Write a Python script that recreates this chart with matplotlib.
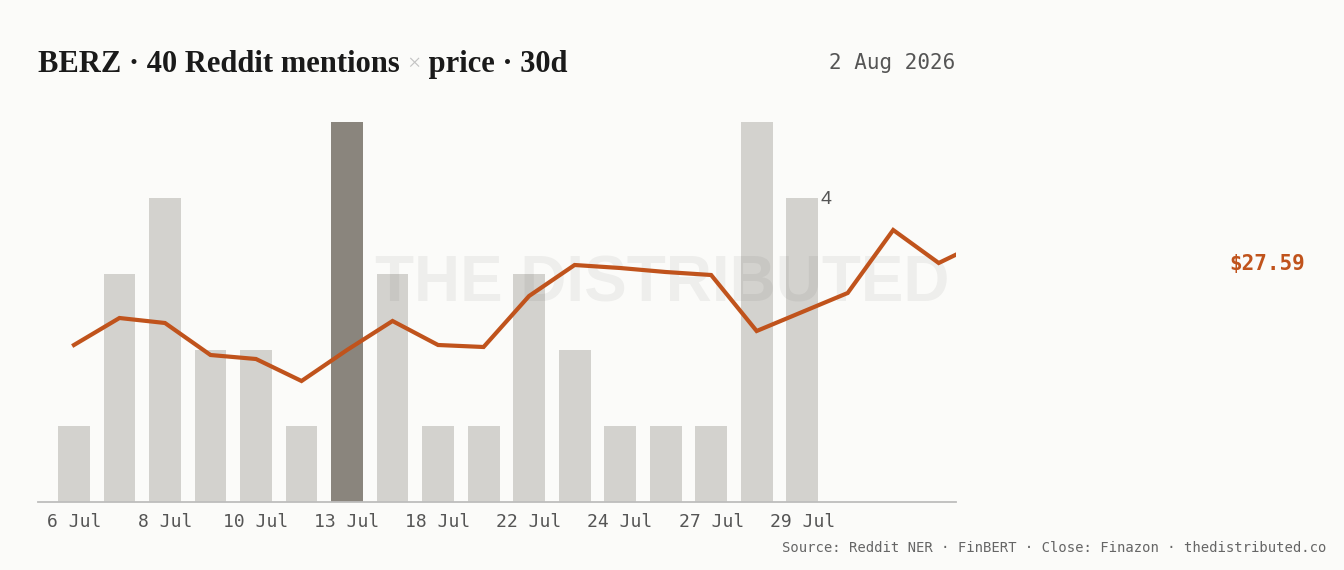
import matplotlib
matplotlib.use("Agg")
import matplotlib.pyplot as plt
from matplotlib import transforms

# data
mention_dates = ["6 Jul", "7 Jul", "8 Jul", "9 Jul", "10 Jul", "12 Jul", "13 Jul", "15 Jul", "18 Jul",
                 "20 Jul", "22 Jul", "23 Jul", "24 Jul", "26 Jul", "27 Jul", "28 Jul", "29 Jul"]
mentions = [1, 3, 4, 2, 2, 1, 5, 3, 1, 1, 3, 2, 1, 1, 1, 5, 4]
peak_day = "13 Jul"
price_dates = mention_dates + ["30 Jul", "31 Jul", "1 Aug", "2 Aug"]
closes = [26.78, 27.05, 27.00, 26.68, 26.64, 26.42, 26.73, 27.02, 26.78, 26.76, 27.27,
          27.58, 27.55, 27.51, 27.48, 26.92, 27.11, 27.30, 27.93, 27.60, 27.82]
last_close = 27.59

BG = "#fbfbf9"
BAR = "#d3d2ce"
BAR_HI = "#8a857d"
ORANGE = "#c0531c"
GREY = "#555555"
MONO = "DejaVu Sans Mono"
SERIF = "Liberation Serif"

fig = plt.figure(figsize=(13.44, 5.70), dpi=100, facecolor=BG)
ax = fig.add_axes([38 / 1344, 1 - 502 / 570, 918 / 1344, 380 / 570])
ax.set_facecolor(BG)

xs = [price_dates.index(d) for d in mention_dates]
colors = [BAR_HI if d == peak_day else BAR for d in mention_dates]
ax.bar(xs, mentions, width=0.70, color=colors, zorder=2)
ax.set_ylim(0, 5)
ax.set_xlim(-0.79, 19.38)

# value label on the last bar
ax.annotate(str(mentions[-1]), xy=(xs[-1] + 0.35, mentions[-1]), xytext=(2, -1),
            textcoords="offset points", ha="left", va="center",
            fontsize=14, color=GREY, family="Liberation Sans")

ax.set_xticks(xs[::2])
ax.set_xticklabels(mention_dates[::2], family=MONO, fontsize=13, color=GREY)
ax.tick_params(axis="x", length=0, pad=8)
ax.set_yticks([])
for s in ["top", "left", "right"]:
    ax.spines[s].set_visible(False)
ax.spines["bottom"].set_color("#bdbdbd")
ax.spines["bottom"].set_linewidth(1.3)

# watermark, clipped at the plot edge
wm = ax.text(0.493, 0.5, "THE DISTRIBUTED", transform=fig.transFigure, ha="center", va="center",
             fontsize=46, family="Liberation Sans", weight="bold", color="black",
             alpha=0.05, zorder=5)
wm.set_clip_on(True)
wm.set_clip_box(ax.bbox)

# price line
ax2 = ax.twinx()
ax2.set_ylim(25.21, 29.01)
ax2.set_xlim(-0.79, 19.38)
ax2.plot(range(len(closes)), closes, color=ORANGE, lw=3, solid_joinstyle="miter", zorder=3)
ax2.axis("off")

lbl_tr = transforms.blended_transform_factory(fig.transFigure, ax2.transData)
ax2.text(1305 / 1344, last_close, f"${last_close:.2f}", transform=lbl_tr,
         ha="right", va="center", fontsize=15, family=MONO, weight="bold", color=ORANGE,
         clip_on=False)

# title in pieces so the "x" can be light grey
base_y = 1 - 72 / 570
t1 = fig.text(38 / 1344, base_y, "BERZ · 40 Reddit mentions ", ha="left", va="baseline",
              fontsize=22, family=SERIF, weight="bold", color="#1a1a1a")
fig.canvas.draw()
r = fig.canvas.get_renderer()
x2 = t1.get_window_extent(r).x1 / fig.bbox.width
t2 = fig.text(x2, base_y + 2 / 570, "×", ha="left", va="baseline",
              fontsize=17, family=SERIF, color="#c4c4c4")
x3 = t2.get_window_extent(r).x1 / fig.bbox.width
fig.text(x3, base_y, " price · 30d", ha="left", va="baseline",
         fontsize=22, family=SERIF, weight="bold", color="#1a1a1a")

fig.text(955 / 1344, 1 - 63 / 570, "2 Aug 2026", ha="right", va="center",
         fontsize=15, family=MONO, color=GREY)
fig.text(1326 / 1344, 1 - 548 / 570,
         "Source: Reddit NER · FinBERT · Close: Finazon · thedistributed.co",
         ha="right", va="center", fontsize=10, family=MONO, color="#666666")

fig.savefig("out.png", dpi=100, facecolor=BG)
